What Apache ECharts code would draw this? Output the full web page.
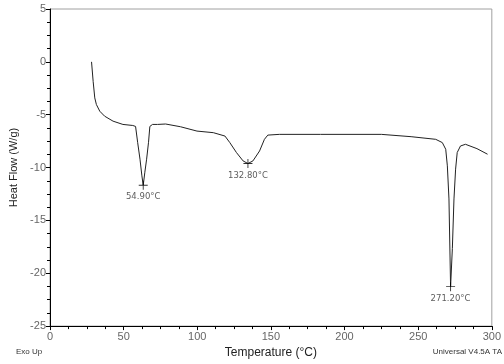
<!DOCTYPE html>
<html>
<head>
<meta charset="utf-8">
<script src="https://cdn.jsdelivr.net/npm/echarts@6/dist/echarts.min.js"></script>
<style>
html,body{margin:0;padding:0;background:#fff;}
#chart{width:504px;height:364px;}
</style>
</head>
<body>
<div id="chart"></div>
<script>
// Temperature (°C)
var temperature = [28.2, 29.3, 30.4, 31.5, 33.8, 37.1, 42.8, 49.5, 56.2, 58.1, 59.5, 61.1, 62.4, 63.3, 64.4, 65.6, 66.9, 67.8, 69.6, 73.0, 78.5, 88.6, 99.8, 110.9, 118.8, 122.1, 126.6, 131.1, 134.4, 137.8, 142.3, 145.6, 147.9, 155.7, 183.7, 225.0, 245.2, 261.9, 266.4, 268.7, 269.8, 270.9, 272.0, 273.2, 274.3, 275.4, 276.5, 278.7, 282.1, 289.9, 297.1];
// Heat Flow (W/g)
var heatFlow = [0.0, -1.85, -3.41, -4.04, -4.67, -5.14, -5.61, -5.92, -6.02, -6.11, -7.61, -9.21, -10.79, -11.67, -10.44, -9.21, -7.61, -6.11, -5.92, -5.92, -5.88, -6.14, -6.55, -6.70, -7.02, -7.64, -8.58, -9.37, -9.62, -9.37, -8.43, -7.33, -6.93, -6.86, -6.86, -6.86, -7.08, -7.33, -7.64, -8.27, -9.84, -12.97, -21.27, -17.67, -12.97, -10.15, -8.58, -7.96, -7.80, -8.21, -8.74];
// Peak annotations
var peakT = [63.3, 134.4, 272.0];
var peakHF = [-11.67, -9.62, -21.27];
var peakLabels = ['54.90°C', '132.80°C', '271.20°C'];
// Axis ticks
var xMin = 0, xMax = 300, xStep = 50;
var yMin = -25, yMax = 5, yStep = 5;

var curve = temperature.map(function (t, i) { return [t, heatFlow[i]]; });
var peaks = peakT.map(function (t, i) { return { value: [t, peakHF[i]], name: peakLabels[i] }; });

var FONT = '"Liberation Sans", Arial, sans-serif';
var chart = echarts.init(document.getElementById('chart'), null, { renderer: 'canvas' });
chart.setOption({
  animation: false,
  backgroundColor: '#ffffff',
  grid: { left: 47, right: 10, top: 9, bottom: 36, show: true, borderColor: '#a0a0a0', borderWidth: 1 },
  xAxis: {
    type: 'value', min: xMin, max: xMax, interval: xStep,
    name: 'Temperature (°C)', nameLocation: 'middle', nameGap: 20,
    nameTextStyle: { fontFamily: FONT, fontSize: 12, color: '#222' },
    axisLine: { show: true, onZero: false, lineStyle: { color: '#000', width: 1 } },
    axisTick: { show: true, inside: false, length: 4, lineStyle: { color: '#000' } },
    minorTick: { show: true, splitNumber: 4, length: 3, lineStyle: { color: '#000' } },
    axisLabel: { fontFamily: FONT, fontSize: 11, color: '#666', margin: 5 },
    splitLine: { show: false }
  },
  yAxis: {
    type: 'value', min: yMin, max: yMax, interval: yStep,
    name: 'Heat Flow (W/g)', nameLocation: 'middle', nameGap: 31, nameRotate: 90,
    nameTextStyle: { fontFamily: FONT, fontSize: 11, color: '#222' },
    axisLine: { show: true, onZero: false, lineStyle: { color: '#000', width: 1 } },
    axisTick: { show: true, inside: false, length: 4, lineStyle: { color: '#000' } },
    minorTick: { show: true, splitNumber: 4, length: 3, lineStyle: { color: '#000' } },
    axisLabel: { fontFamily: FONT, fontSize: 11, color: '#666', margin: 4 },
    splitLine: { show: false }
  },
  title: [
    { text: 'Exo Up', left: 16, top: 348, textStyle: { fontFamily: FONT, fontSize: 8, fontWeight: 'normal', color: '#333' }, padding: 0 },
    { text: 'Universal V4.5A TA', right: 2, top: 348, textStyle: { fontFamily: FONT, fontSize: 8, fontWeight: 'normal', color: '#333' }, padding: 0 }
  ],
  series: [
    {
      type: 'line', data: curve, showSymbol: false, smooth: false,
      lineStyle: { color: '#222', width: 1 }, z: 2
    },
    {
      type: 'scatter', data: peaks,
      symbol: 'path://M0,4.5H10V5.5H0Z M4.5,0H5.5V10H4.5Z', symbolSize: 9,
      itemStyle: { color: '#000' }, z: 3,
      label: {
        show: true, position: 'bottom', distance: 3,
        formatter: function (p) { return p.name; },
        fontFamily: '"DejaVu Sans", Verdana, sans-serif', fontSize: 8.5, color: '#333'
      }
    }
  ]
});
</script>
</body>
</html>
